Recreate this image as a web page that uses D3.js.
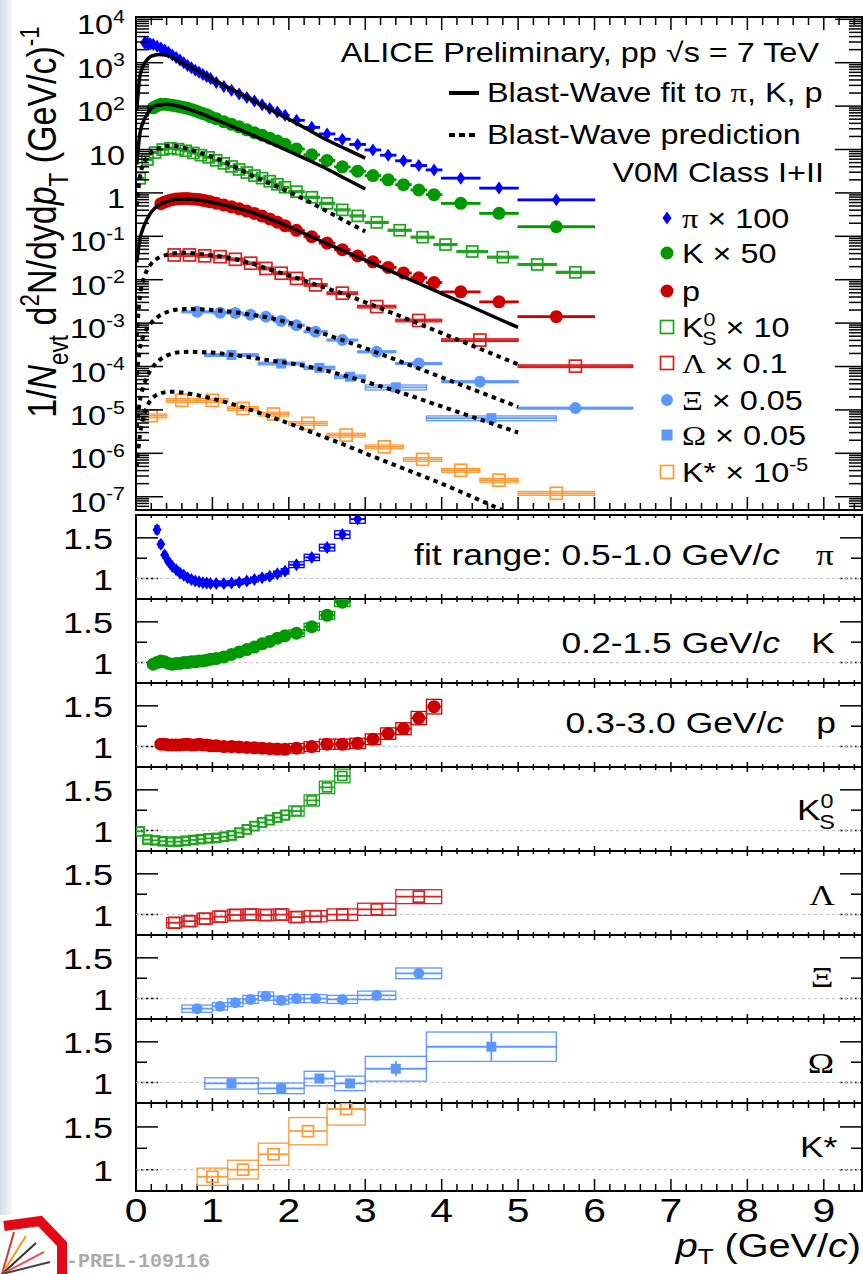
<!DOCTYPE html>
<html>
<head>
<meta charset="utf-8">
<script src="https://d3js.org/d3.v7.min.js"></script>
<style>
  body { margin: 0; background: #ffffff; }
  text { font-family: "Liberation Sans", Arial, Helvetica, sans-serif; fill: #000; }
  .greek { font-family: "Liberation Serif", "DejaVu Serif", serif; }
  .it { font-style: italic; }
</style>
</head>
<body>
<script>
// ---------- spectra, values as drawn (scale factors already applied) ----------
// pi x 100
var piEdges = [0.1,0.12,0.14,0.16,0.18,0.2,0.25,0.3,0.35,0.4,0.45,0.5,0.55,0.6,0.65,0.7,0.75,0.8,0.85,0.9,0.95,1.0,
               1.1,1.2,1.3,1.4,1.5,1.6,1.7,1.8,1.9,2.0,2.2,2.4,2.6,2.8,3.0,3.2,3.4,3.6,3.8,4.0,4.5,5.0,6.0];
var piVal = [2880,2850,2820,2750,2690,2630,2400,2190,1950,1740,1510,1320,1150,1000,861,767,671,605,535,484,430,
             349,284,232,191,157,131,108,87.7,73.3,61.2,47.1,32.4,22.9,17.3,13.1,9.77,7.41,5.50,4.27,3.39,2.19,1.29,0.692];
var piRatio = [null,null,null,null,null,null,1.60,1.42,1.29,1.21,1.15,1.11,1.07,1.04,1.01,0.99,0.97,0.96,0.95,0.945,0.94,
               0.94,0.94,0.945,0.955,0.97,0.99,1.01,1.03,1.06,1.09,1.17,1.26,1.38,1.54,1.73,null,null,null,null,null,null,null,null];
// K x 50
var kEdges = [0.2,0.25,0.3,0.35,0.4,0.45,0.5,0.55,0.6,0.65,0.7,0.75,0.8,0.85,0.9,0.95,1.0,
              1.1,1.2,1.3,1.4,1.5,1.6,1.7,1.8,1.9,2.0,2.2,2.4,2.6,2.8,3.0,3.2,3.4,3.6,3.8,4.0,4.5,5.0,6.0];
var kVal = [91.2,102,110,111,108,104,101,96.8,93.3,89.1,83.9,78.3,72.3,67.5,63.5,57.1,
            51.4,43.6,38.1,33.3,28.4,24.3,21.4,18.2,15.6,13.3,10.3,7.55,5.61,3.98,3.16,2.51,2.0,1.55,1.17,0.912,0.575,0.339,0.166];
var kRatio = [0.98,1.0,1.02,1.01,0.99,0.98,0.99,0.99,1.0,1.0,1.01,1.01,1.02,1.02,1.03,1.04,
              1.05,1.07,1.1,1.13,1.16,1.19,1.23,1.26,1.3,1.33,1.36,1.44,1.58,1.74,null,null,null,null,null,null,null,null,null];
// p
var pEdges = [0.3,0.35,0.4,0.45,0.5,0.55,0.6,0.65,0.7,0.75,0.8,0.85,0.9,0.95,1.0,
              1.1,1.2,1.3,1.4,1.5,1.6,1.7,1.8,1.9,2.0,2.2,2.4,2.6,2.8,3.0,3.2,3.4,3.6,3.8,4.0,4.5,5.0,6.0];
var pVal = [0.566,0.621,0.661,0.698,0.724,0.736,0.741,0.741,0.724,0.714,0.705,0.676,0.652,0.622,
            0.581,0.525,0.479,0.430,0.381,0.337,0.292,0.251,0.212,0.176,0.137,0.0977,0.0697,0.0493,0.0352,
            0.0258,0.0192,0.0143,0.0111,0.00857,0.00525,0.00309,0.00141];
var pRatio = [1.03,1.03,1.02,1.02,1.02,1.02,1.025,1.03,1.02,1.02,1.03,1.02,1.02,1.01,
              1.01,1.0,1.0,0.995,0.99,0.985,0.98,0.975,0.97,0.967,0.98,1.0,1.03,1.03,1.04,1.09,1.16,1.22,1.35,1.49,null,null,null];
// K0S x 10
var k0Edges = [0,0.1,0.2,0.3,0.4,0.5,0.6,0.7,0.8,0.9,1.0,1.1,1.2,1.3,1.4,1.5,1.6,1.7,1.8,1.9,2.0,
               2.2,2.4,2.6,2.8,3.0,3.3,3.6,3.9,4.2,4.6,5.0,5.5,6.0];
var k0Val = [2.17,5.89,8.51,10.0,10.7,10.2,9.33,8.32,7.41,6.61,5.62,4.79,4.07,3.47,2.95,2.51,2.19,1.86,1.58,1.35,
             1.07,0.794,0.575,0.407,0.295,0.209,0.138,0.0955,0.0646,0.0447,0.0331,0.0224,0.0148];
var k0Ratio = [0.99,0.89,0.88,0.87,0.865,0.865,0.875,0.885,0.895,0.905,0.91,0.925,0.94,0.975,1.015,1.055,1.1,1.13,1.16,1.19,
               1.24,1.37,1.53,1.67,null,null,null,null,null,null,null,null,null];
// Lambda x 0.1
var lamEdges = [0.4,0.6,0.8,1.0,1.2,1.4,1.6,1.8,2.0,2.2,2.5,2.9,3.4,4.0,5.0,6.5];
var lamVal = [0.0372,0.0372,0.0355,0.0339,0.0295,0.0240,0.0182,0.0141,0.0107,0.00759,0.0049,0.0024,0.00115,4.07e-4,1.02e-4];
var lamRatio = [0.9,0.92,0.95,0.975,0.995,1.0,0.995,1.0,0.97,0.98,1.0,1.065,1.22,null,null];
// Xi x 0.05
var xiEdges = [0.6,1.0,1.2,1.4,1.6,1.8,2.0,2.2,2.5,2.9,3.4,4.0,5.0,6.5];
var xiVal = [1.82e-3,1.74e-3,1.70e-3,1.55e-3,1.41e-3,1.12e-3,8.91e-4,6.31e-4,4.07e-4,2.19e-4,1.17e-4,4.47e-5,1.10e-5];
var xiRatio = [0.877,0.905,0.95,0.99,1.03,0.98,1.0,1.0,0.99,1.04,1.31,null,null];
// Omega x 0.05
var omEdges = [0.9,1.6,2.2,2.6,3.0,3.8,5.5];
var omVal = [1.84e-4,1.17e-4,9.33e-5,5.82e-5,3.31e-5,6.46e-6];
var omRatio = [0.99,0.93,1.05,0.99,1.17,1.44];
var omSys = [0.07,0.07,0.085,0.09,0.13,0.125];
var omStat = [0.03,0.03,0.05,0.05,0.08,0.12];
// K* x 1e-5
var ksEdges = [0,0.4,0.8,1.2,1.6,2.0,2.5,3.0,3.5,4.0,4.5,5.0,6.0];
var ksVal = [7.33e-6,1.66e-5,1.66e-5,1.08e-5,8.04e-6,4.90e-6,2.63e-6,1.41e-6,7.24e-7,4.07e-7,2.40e-7,1.20e-7];
var ksRatio = [null,null,0.917,1.0,1.18,1.45,1.71,null,null,null,null,null];

// ---------- blast-wave fit (solid) ----------
var fitPt = [0.01,0.05,0.1,0.15,0.2,0.3,0.4,0.5,0.6,0.8,1.0,1.25,1.5,1.75,2.0,2.25,2.5,2.75,3.0];
var piFit = [79,479,891,1202,1413,1549,1479,1259,1000,661,417,245,145,85.1,50.1,28.8,16.6,10.2,6.31];
var kFit = [4.47,22.9,45.7,66.1,89.1,107,110,105,95.5,72.4,52.5,34.7,22.4,14.5,9.12,5.75,3.55,2.09,1.23];
var pFitPt = [0.01,0.05,0.1,0.2,0.3,0.4,0.5,0.6,0.7,0.8,1.0,1.25,1.5,1.75,2.0,2.25,2.5,2.75,3.0,3.5,4.0,4.5,5.0];
var pFit = [0.0251,0.0832,0.166,0.363,0.525,0.631,0.700,0.724,0.716,0.692,0.603,0.479,0.363,0.251,0.166,0.107,
            0.0676,0.0437,0.0282,0.0117,0.00479,0.00195,0.000794];

// ---------- blast-wave prediction (dotted) ----------
var k0Pred = [0.501,2.24,4.79,6.61,8.51,10.7,12.0,12.0,11.2,8.81,6.76,4.34,2.63,1.65,1.05,0.646,0.376,0.219,0.129]; // on fitPt
var predPt = [0.01,0.05,0.1,0.15,0.2,0.3,0.4,0.5,0.6,0.7,0.8,1.0,1.25,1.5,1.75,2.0,2.25,2.5,2.75,3.0,3.5,4.0,4.5,5.0];
var lamPred = [5.01e-4,3.98e-3,0.0105,0.0174,0.0234,0.0324,0.0372,0.0407,0.0417,0.0412,0.0398,0.0363,0.0309,0.0240,
               0.0172,0.0126,0.00891,0.00631,0.00447,0.00302,0.00135,5.89e-4,2.57e-4,1.12e-4];
var xiPred = [6.31e-5,2.51e-4,5.25e-4,7.94e-4,1.02e-3,1.45e-3,1.78e-3,2.0e-3,2.09e-3,2.11e-3,2.09e-3,2.0e-3,1.82e-3,
              1.56e-3,1.32e-3,1.02e-3,7.41e-4,5.37e-4,3.80e-4,2.63e-4,1.23e-4,5.62e-5,2.57e-5,1.17e-5];
var omPred = [3.98e-6,1.58e-5,3.55e-5,6.03e-5,8.71e-5,1.38e-4,1.78e-4,2.04e-4,2.16e-4,2.19e-4,2.16e-4,2.09e-4,1.86e-4,
              1.62e-4,1.38e-4,1.20e-4,1.0e-4,7.94e-5,6.03e-5,4.47e-5,2.40e-5,1.20e-5,6.03e-6,3.02e-6];
var ksPredPt = [0.01,0.05,0.1,0.15,0.2,0.3,0.4,0.5,0.6,0.8,1.0,1.25,1.5,1.75,2.0,2.25,2.5,2.75,3.0,3.5,4.0,4.5,5.0];
var ksPred = [5.01e-7,2.51e-6,7.08e-6,1.26e-5,1.74e-5,2.34e-5,2.57e-5,2.63e-5,2.51e-5,2.19e-5,1.82e-5,1.38e-5,1.0e-5,
              7.08e-6,4.90e-6,3.31e-6,2.24e-6,1.51e-6,1.0e-6,4.47e-7,2.0e-7,8.32e-8,3.39e-8];

// tick labels / texts
var xTickLabels = ["0","1","2","3","4","5","6","7","8","9"];
var fitRanges = ["fit range: 0.5-1.0 GeV/", "0.2-1.5 GeV/", "0.3-3.0 GeV/"];

// ---------- drawing ----------
var SX = 1.2;   // the reference canvas is a bit stretched horizontally
var BLUE = "#0000ff", GREEN = "#009900", GREEN2 = "#1fa31f", RED = "#cc0000", RED2 = "#d62020",
    LBLUE = "#5c97ff", ORANGE = "#ff9933";

var svg = d3.select("body").append("svg").attr("width", 863).attr("height", 1274);

var defs = svg.append("defs");
var grad = defs.append("linearGradient").attr("id", "strip");
grad.append("stop").attr("offset", "0").attr("stop-color", "#d6dce8");
grad.append("stop").attr("offset", "1").attr("stop-color", "#f4f6fa");
svg.append("rect").attr("x", 0).attr("y", 0).attr("width", 12).attr("height", 1215).attr("fill", "url(#strip)");

var x = d3.scaleLinear().domain([0, 9.5]).range([136, 862]);
var yTop = d3.scaleLog().domain([Math.pow(10, -7.306), Math.pow(10, 4.053)]).range([510, 17]);

function rich(parent, px, py, anchor, size, parts, rotated) {
  var tr = "translate(" + px + "," + py + ")" + (rotated ? " rotate(-90) scale(1," + SX + ")" : " scale(" + SX + ",1)");
  var t = parent.append("text").attr("transform", tr).attr("text-anchor", anchor).style("font-size", size + "px");
  var shift = 0;
  parts.forEach(function (p) {
    if (typeof p === "string") p = { t: p };
    var target = p.sup ? -0.42 * size : (p.sub ? (p.low || 0.3) * size : 0);
    var ts = t.append("tspan").text(p.t).attr("dy", target - shift);
    if (p.dx) ts.attr("dx", p.dx);
    if (p.sup || p.sub) ts.style("font-size", 0.66 * size + "px");
    if (p.cls) ts.attr("class", p.cls);
    shift = target;
  });
  return t;
}

function marker(g, shape, cx, cy, color, s) {
  if (shape === "diamond") {
    g.append("path").attr("d", "M" + cx + "," + (cy - s * 0.65) + "L" + (cx + s * 0.45) + "," + cy + "L" + cx + "," +
      (cy + s * 0.65) + "L" + (cx - s * 0.45) + "," + cy + "Z").attr("fill", color);
  } else if (shape === "circle") {
    g.append("circle").attr("cx", cx).attr("cy", cy).attr("r", s / 2).attr("fill", color);
  } else if (shape === "square") {
    g.append("rect").attr("x", cx - s / 2).attr("y", cy - s / 2).attr("width", s).attr("height", s).attr("fill", color);
  } else {
    g.append("rect").attr("x", cx - s / 2).attr("y", cy - s / 2).attr("width", s).attr("height", s)
      .attr("fill", "none").attr("stroke", color).attr("stroke-width", 1.7);
  }
}

function drawSeries(g, ys, edges, vals, color, shape, size, sys, stat) {
  vals.forEach(function (v, i) {
    if (v == null) return;
    var lo = edges[i], hi = edges[i + 1];
    var s = Array.isArray(sys) ? sys[i] : sys;
    var y1 = ys(v * (1 + s)), y2 = ys(v * (1 - s));
    g.append("rect").attr("x", x(lo)).attr("y", y1).attr("width", x(hi) - x(lo)).attr("height", y2 - y1)
      .attr("fill", "none").attr("stroke", color).attr("stroke-width", 1.3);
    g.append("line").attr("x1", x(lo)).attr("x2", x(hi)).attr("y1", ys(v)).attr("y2", ys(v))
      .attr("stroke", color).attr("stroke-width", 1.8);
    if (stat) {
      g.append("line").attr("x1", x((lo + hi) / 2)).attr("x2", x((lo + hi) / 2))
        .attr("y1", ys(v * (1 + stat[i]))).attr("y2", ys(v * (1 - stat[i])))
        .attr("stroke", color).attr("stroke-width", 1.8);
    }
    marker(g, shape, x((lo + hi) / 2), ys(v), color, size);
  });
}

function curve(g, pts, vals, dotted) {
  var line = d3.line().curve(d3.curveMonotoneX).x(function (d) { return x(d[0]); }).y(function (d) { return yTop(d[1]); });
  g.append("path").datum(pts.map(function (p, i) { return [p, vals[i]]; }))
    .attr("d", line).attr("fill", "none").attr("stroke", "#000")
    .attr("stroke-width", dotted ? 4 : 3.5)
    .attr("stroke-dasharray", dotted ? "4.5,4.5" : null);
}

// ===== top panel =====
defs.append("clipPath").attr("id", "clipTop").append("rect")
  .attr("x", 136).attr("y", 17).attr("width", 726).attr("height", 493);
var spectraG = svg.append("g").attr("clip-path", "url(#clipTop)");

drawSeries(spectraG, yTop, ksEdges, ksVal, ORANGE, "osquare", 12, 0.1);
drawSeries(spectraG, yTop, omEdges, omVal, LBLUE, "square", 10, omSys);
drawSeries(spectraG, yTop, xiEdges, xiVal, LBLUE, "circle", 12, 0.05);
drawSeries(spectraG, yTop, lamEdges, lamVal, RED2, "osquare", 12, 0.07);
drawSeries(spectraG, yTop, k0Edges, k0Val, GREEN2, "osquare", 11, 0.05);
drawSeries(spectraG, yTop, pEdges, pVal, RED, "circle", 13, 0.04);
drawSeries(spectraG, yTop, kEdges, kVal, GREEN, "circle", 13, 0.04);
drawSeries(spectraG, yTop, piEdges, piVal, BLUE, "diamond", 10, 0.04);

curve(spectraG, fitPt, piFit, false);
curve(spectraG, fitPt, kFit, false);
curve(spectraG, pFitPt, pFit, false);
curve(spectraG, fitPt, k0Pred, true);
curve(spectraG, predPt, lamPred, true);
curve(spectraG, predPt, xiPred, true);
curve(spectraG, predPt, omPred, true);
curve(spectraG, ksPredPt, ksPred, true);

// frame + ticks
var axes = svg.append("g").attr("stroke", "#000");
axes.append("rect").attr("x", 136).attr("y", 17).attr("width", 726).attr("height", 493)
  .attr("fill", "none").attr("stroke-width", 2);
function tick(g, x1, y1, x2, y2, w) {
  g.append("line").attr("x1", x1).attr("y1", y1).attr("x2", x2).attr("y2", y2).attr("stroke-width", w || 1.5);
}
var d0 = yTop.domain();
for (var k = -8; k <= 4; k++) {
  for (var m = 1; m <= 9; m++) {
    var v = m * Math.pow(10, k);
    if (v < d0[0] || v > d0[1]) continue;
    var len = m === 1 ? 27 : 13;
    tick(axes, 136, yTop(v), 136 + len, yTop(v));
    tick(axes, 862 - len, yTop(v), 862, yTop(v));
  }
}
for (var i = 0; i <= 47; i++) {
  var xv = i * 0.2, major = i % 5 === 0;
  if (xv > 9.5) break;
  tick(axes, x(xv), 510, x(xv), 510 - (major ? 13 : 7));
  tick(axes, x(xv), 17, x(xv), 17 + (major ? 13 : 8));
}
for (var e = -7; e <= 4; e++) {
  var py = yTop(Math.pow(10, e)) + 15;
  if (e === 0) rich(svg, 125, py, "end", 27, ["1"]);
  else if (e === 1) rich(svg, 125, py, "end", 27, ["10"]);
  else rich(svg, 125, py, "end", 27, ["10", { t: String(e), sup: true }]);
}

rich(svg, 56, 222, "middle", 34, ["1/", { t: "N", cls: "it" }, { t: "evt", sub: true }, " d", { t: "2", sup: true },
  "N/dyd", { t: "p", cls: "it" }, { t: "T", sub: true }, " (GeV/c)", { t: "-1", sup: true }], true);

// legend
rich(svg, 819, 62, "end", 27, ["ALICE Preliminary, pp  \u221As = 7 TeV"]);
tick(axes, 449, 93, 479, 93, 4);
rich(svg, 487, 102, "start", 27, ["Blast-Wave fit to ", { t: "\u03c0", cls: "greek" }, ", K, p"]);
axes.append("line").attr("x1", 449).attr("y1", 135).attr("x2", 479).attr("y2", 135)
  .attr("stroke-width", 4).attr("stroke-dasharray", "6,4");
rich(svg, 487, 144, "start", 27, ["Blast-Wave prediction"]);
rich(svg, 824, 182, "end", 27, ["V0M Class I+II"]);

var legend = [
  { c: BLUE, s: "diamond", z: 10, y: 218, t: [{ t: "\u03c0", cls: "greek" }, " \u00d7 100"] },
  { c: GREEN, s: "circle", z: 13, y: 253, t: ["K \u00d7 50"] },
  { c: RED, s: "circle", z: 13, y: 291, t: ["p"] },
  { c: GREEN2, s: "osquare", z: 13, y: 327, t: ["K", { t: "0", sup: true }, { t: "S", sub: true, dx: -11 }, " \u00d7 10"] },
  { c: RED2, s: "osquare", z: 13, y: 363, t: [{ t: "\u039b", cls: "greek" }, " \u00d7 0.1"] },
  { c: LBLUE, s: "circle", z: 12, y: 400, t: [{ t: "\u039e", cls: "greek" }, " \u00d7 0.05"] },
  { c: LBLUE, s: "square", z: 11, y: 435, t: [{ t: "\u03a9", cls: "greek" }, " \u00d7 0.05"] },
  { c: ORANGE, s: "osquare", z: 13, y: 472, t: ["K* \u00d7 10", { t: "-5", sup: true }] }
];
legend.forEach(function (d) {
  marker(svg, d.s, 667, d.y, d.c, d.z);
  rich(svg, 682, d.y + 10, "start", 27, d.t);
});

// ===== ratio panels =====
var tops = [515, 599, 683, 767, 851, 935, 1019, 1103];
var bots = [599, 683, 767, 851, 935, 1019, 1103, 1191];
var ratioSets = [
  { e: piEdges, r: piRatio, c: BLUE, s: "diamond", z: 10, sys: 0.03 },
  { e: kEdges, r: kRatio, c: GREEN, s: "circle", z: 13, sys: 0.03 },
  { e: pEdges, r: pRatio, c: RED, s: "circle", z: 13, sys: 0.06 },
  { e: k0Edges, r: k0Ratio, c: GREEN2, s: "osquare", z: 9, sys: 0.05 },
  { e: lamEdges, r: lamRatio, c: RED2, s: "osquare", z: 11, sys: 0.07 },
  { e: xiEdges, r: xiRatio, c: LBLUE, s: "circle", z: 11, sys: 0.05 },
  { e: omEdges, r: omRatio, c: LBLUE, s: "square", z: 10, sys: omSys, stat: omStat },
  { e: ksEdges, r: ksRatio, c: ORANGE, s: "osquare", z: 11, sys: 0.11 }
];

ratioSets.forEach(function (d, p) {
  var t0 = tops[p], b0 = bots[p];
  var yr = d3.scaleLinear().domain([0.75, 1.78]).range([b0, t0]);
  defs.append("clipPath").attr("id", "clipR" + p).append("rect")
    .attr("x", 136).attr("y", t0).attr("width", 726).attr("height", b0 - t0);
  svg.append("line").attr("x1", 136).attr("x2", 862).attr("y1", yr(1)).attr("y2", yr(1))
    .attr("stroke", "#bdbdbd").attr("stroke-width", 1).attr("stroke-dasharray", "3,3");
  var g = svg.append("g").attr("clip-path", "url(#clipR" + p + ")");
  drawSeries(g, yr, d.e, d.r, d.c, d.s, d.z, d.sys, d.stat);

  axes.append("rect").attr("x", 136).attr("y", t0).attr("width", 726).attr("height", b0 - t0)
    .attr("fill", "none").attr("stroke-width", 2);
  tick(axes, 136, yr(1.5), 158, yr(1.5));
  tick(axes, 136, yr(1.25), 147, yr(1.25));
  tick(axes, 840, yr(1.5), 862, yr(1.5));
  tick(axes, 851, yr(1.25), 862, yr(1.25));
  axes.append("line").attr("x1", 136).attr("x2", 158).attr("y1", yr(1)).attr("y2", yr(1))
    .attr("stroke-width", 1.5).attr("stroke-dasharray", "2.5,2.5");
  axes.append("line").attr("x1", 840).attr("x2", 862).attr("y1", yr(1)).attr("y2", yr(1))
    .attr("stroke-width", 1.5).attr("stroke-dasharray", "2.5,2.5");
  var last = p === 7;
  for (var i = 0; i <= 47; i++) {
    var xv = i * 0.2, major = i % 5 === 0;
    if (xv > 9.5) break;
    tick(axes, x(xv), t0, x(xv), t0 + (major ? (last ? 8 : 5) : (last ? 5 : 3)));
    tick(axes, x(xv), b0, x(xv), b0 - (major ? (last ? 12 : 5) : (last ? 7 : 3)));
  }
  rich(svg, 113, yr(1.5) + 11, "end", 30, ["1.5"]);
  rich(svg, 113, yr(1) + 11, "end", 30, ["1"]);
});

// panel captions
rich(svg, 780, 565, "end", 29.5, [fitRanges[0], { t: "c", cls: "it" }]);
rich(svg, 825, 565, "middle", 29.5, [{ t: "\u03c0", cls: "greek" }]);
rich(svg, 780, 653, "end", 29.5, [fitRanges[1], { t: "c", cls: "it" }]);
rich(svg, 823, 653, "middle", 29.5, ["K"]);
rich(svg, 784, 733, "end", 29.5, [fitRanges[2], { t: "c", cls: "it" }]);
rich(svg, 826, 733, "middle", 29.5, ["p"]);
rich(svg, 797, 820, "start", 29.5, ["K", { t: "0", sup: true }, { t: "S", sub: true, dx: -12 }]);
rich(svg, 822, 905, "middle", 29.5, [{ t: "\u039b", cls: "greek" }]);
rich(svg, 822, 987, "middle", 29.5, [{ t: "\u039e", cls: "greek" }]);
rich(svg, 821, 1073, "middle", 29.5, [{ t: "\u03a9", cls: "greek" }]);
rich(svg, 800, 1157, "start", 29.5, ["K*"]);

// x axis labels
xTickLabels.forEach(function (s, i) { rich(svg, x(i), 1222, "middle", 34, [s]); });
rich(svg, 861, 1257, "end", 33, [{ t: "p", cls: "it" }, { t: "T", sub: true, low: 0.22 }, " (GeV/", { t: "c", cls: "it" }, ")"]);

// logo corner + preliminary id
var logo = svg.append("g");
logo.append("path").attr("d", "M4,1226 L40,1221 L62,1244 L62,1274").attr("fill", "none")
  .attr("stroke", "#e30a17").attr("stroke-width", 10);
[["#d33", 14, 1232], ["#f39c12", 26, 1236], ["#333", 36, 1243], ["#e55", 44, 1252], ["#444", 50, 1262]].forEach(function (l) {
  logo.append("line").attr("x1", 2).attr("y1", 1274).attr("x2", l[1]).attr("y2", l[2])
    .attr("stroke", l[0]).attr("stroke-width", 2);
});
svg.append("text").attr("x", 66).attr("y", 1267).text("-PREL-109116")
  .style("font-family", "\"Liberation Mono\", \"DejaVu Sans Mono\", monospace").style("font-weight", "bold")
  .style("font-size", "20px").style("fill", "#aaaaaa");
</script>
</body>
</html>
